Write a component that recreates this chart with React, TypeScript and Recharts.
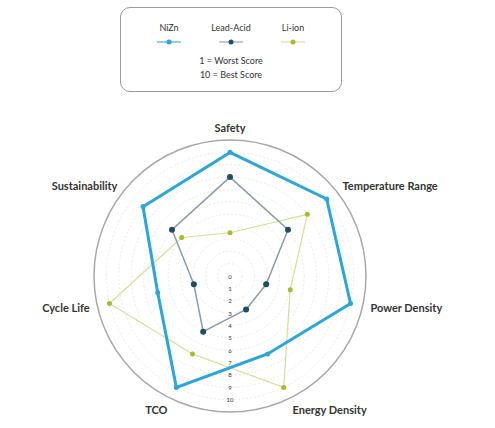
// Battery chemistry radar - NiZn vs Lead-Acid vs Li-ion, scored 1-10.
import {
  RadarChart,
  Radar,
  PolarGrid,
  PolarAngleAxis,
  PolarRadiusAxis,
} from "recharts";

const CATEGORIES = [
  "Safety",
  "Temperature Range",
  "Power Density",
  "Energy Density",
  "TCO",
  "Cycle Life",
  "Sustainability",
];
const NIZN = [10, 10, 10, 7, 10, 6, 9];
const LEAD_ACID = [8, 6, 3, 3, 5, 3, 6];
const LI_ION = [3.5, 8, 5, 10, 7, 10, 5];
const RADIUS_TICKS = [0, 1, 2, 3, 4, 5, 6, 7, 8, 9, 10];

const COLOR_NIZN = "#2ba6d9";
const COLOR_LEAD_LINE = "#8c9ba6";
const COLOR_LEAD_DOT = "#1e4f60";
const COLOR_LI_LINE = "#d3e19a";
const COLOR_LI_DOT = "#a9ba2e";

const FONT = "Lato, 'Open Sans', sans-serif";

const data = CATEGORIES.map((name, i) => ({
  name,
  nizn: NIZN[i],
  lead: LEAD_ACID[i],
  li: LI_ION[i],
}));

function LegendItem({ label, line, dot }: { label: string; line: string; dot: string }) {
  return (
    <div style={{ display: "flex", flexDirection: "column", alignItems: "center", width: 60 }}>
      <span style={{ fontSize: 9, color: "#333" }}>{label}</span>
      <svg width={30} height={10} style={{ marginTop: 4 }}>
        <line x1={3} y1={5} x2={27} y2={5} stroke={line} strokeWidth={1.5} opacity={0.7} />
        <circle cx={15} cy={5} r={2.5} fill={dot} />
      </svg>
    </div>
  );
}

// Upright radius tick labels (recharts rotates them with the axis angle).
function RadiusTick(props: any) {
  const { x, y, payload } = props;
  return (
    <text x={x} y={y} textAnchor="middle" dominantBaseline="central" fontSize={6} fill="#333" fontFamily={FONT}>
      {payload.value}
    </text>
  );
}

export default function App() {
  return (
    <div style={{ position: "absolute", left: 0, top: 0, width: 495, height: 428, background: "#fff", fontFamily: FONT }}>
      {/* Legend box */}
      <div
        style={{
          position: "absolute",
          left: 120,
          top: 7,
          width: 222,
          height: 85,
          boxSizing: "border-box",
          border: "1.5px solid #9a9a9a",
          borderRadius: 10,
        }}
      >
        <div style={{ display: "flex", justifyContent: "center", gap: 2, marginTop: 14 }}>
          <LegendItem label="NiZn" line={COLOR_NIZN} dot={COLOR_NIZN} />
          <LegendItem label="Lead-Acid" line={COLOR_LEAD_LINE} dot={COLOR_LEAD_DOT} />
          <LegendItem label="Li-ion" line={COLOR_LI_LINE} dot={COLOR_LI_DOT} />
        </div>
        <div style={{ textAlign: "center", fontSize: 9, color: "#333", lineHeight: "14px", marginTop: 7 }}>
          <div>1 = Worst Score</div>
          <div>10 = Best Score</div>
        </div>
      </div>

      <RadarChart
        width={495}
        height={428}
        data={data}
        cx={230}
        cy={276}
        outerRadius={136}
        margin={{ top: 0, right: 0, bottom: 0, left: 0 }}
        style={{ position: "absolute", left: 0, top: 0 }}
      >
        <PolarGrid gridType="circle" radialLines={false} stroke="#ececec" strokeDasharray="2 2" />
        <PolarGrid gridType="circle" radialLines={false} polarRadius={[136]} stroke="#a8a8a8" strokeWidth={1.5} />
        <PolarAngleAxis
          dataKey="name"
          axisLine={false}
          tickLine={false}
          tick={{ fontFamily: FONT, fontSize: 11, fontWeight: 700, fill: "#333" }}
        />
        <PolarRadiusAxis
          angle={-90}
          domain={[0, 11]}
          ticks={RADIUS_TICKS}
          axisLine={false}
          tickLine={false}
          tick={RadiusTick}
        />
        <Radar
          dataKey="li"
          stroke={COLOR_LI_LINE}
          strokeWidth={1.2}
          fill="none"
          fillOpacity={0}
          dot={{ r: 2.5, fill: COLOR_LI_DOT, stroke: "none", fillOpacity: 1 }}
          isAnimationActive={false}
        />
        <Radar
          dataKey="lead"
          stroke={COLOR_LEAD_LINE}
          strokeWidth={1.5}
          fill="none"
          fillOpacity={0}
          dot={{ r: 3, fill: COLOR_LEAD_DOT, stroke: "none", fillOpacity: 1 }}
          isAnimationActive={false}
        />
        <Radar
          dataKey="nizn"
          stroke={COLOR_NIZN}
          strokeWidth={3}
          fill="none"
          fillOpacity={0}
          dot={{ r: 2.5, fill: COLOR_NIZN, stroke: "none", fillOpacity: 1 }}
          isAnimationActive={false}
        />
      </RadarChart>
    </div>
  );
}
